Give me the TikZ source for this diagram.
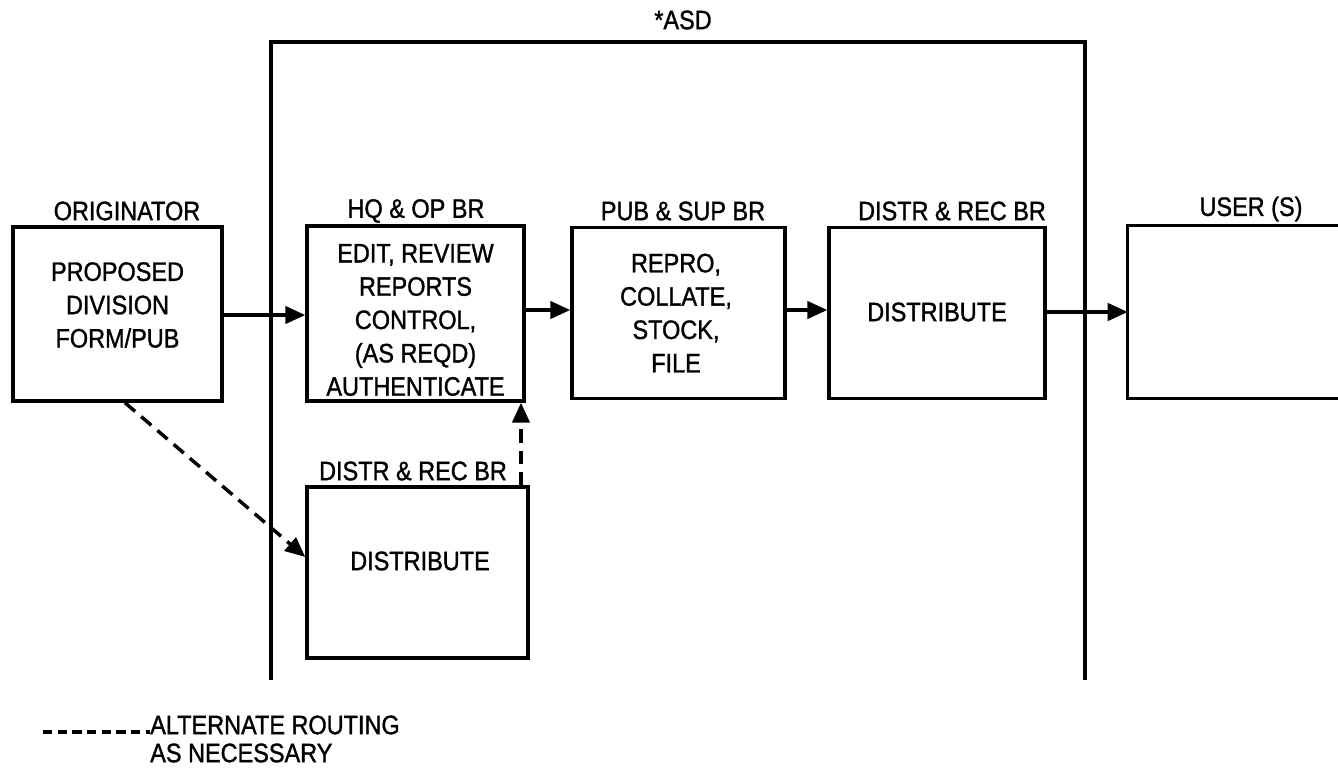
\documentclass[tikz,border=0pt]{standalone}
\usepackage{fontspec}
\setmainfont{Liberation Sans}[FakeStretch=0.88,FakeBold=1.2]
\usetikzlibrary{arrows.meta}
\begin{document}
\begin{tikzpicture}[x=0.75pt,y=-0.75pt,
  box/.style={draw, line width=2.6pt, inner sep=0pt},
  txt/.style={font=\fontsize{20}{25}\selectfont, align=center, inner sep=0pt},
  arr/.style={line width=2.6pt, -{Triangle[length=15pt,width=13pt]}},
  dsh/.style={arr, dash pattern=on 10pt off 6pt},
  frame/.style={line width=2.4pt}]
\useasboundingbox (0,0) rectangle (1338,768);

% boxes
\node[box, minimum width=156.75pt, minimum height=130.5pt] (orig) at (117.5,314) {};
\node[box, minimum width=162.75pt, minimum height=131.25pt] (hq)   at (415.5,313.5) {};
\node[box, minimum width=159.75pt, minimum height=128.25pt] (pub)  at (678.5,313) {};
\node[box, minimum width=162pt,    minimum height=128.25pt] (dist) at (937,313) {};
\node[minimum width=157.5pt, minimum height=129pt, inner sep=0pt] (user) at (1233,312) {};
\draw[line width=2.6pt] (user.north east) -- (user.north west) -- (user.south west) -- (user.south east);
\node[box, minimum width=165.75pt, minimum height=128.25pt] (dist2) at (417.5,572.5) {};

% box texts
\node[txt] (origt) at (117.5,305) {PROPOSED\\DIVISION\\FORM/PUB};
\node[txt] (hqt) at (415.5,320) {EDIT, REVIEW\\REPORTS\\CONTROL,\\(AS REQD)\\AUTHENTICATE};
\node[txt] (pubt) at (676,313) {REPRO,\\COLLATE,\\STOCK,\\FILE};
\node[txt] (distt) at (937,312) {DISTRIBUTE};
\node[txt] (dist2t) at (420,561) {DISTRIBUTE};

% labels above boxes
\node[txt] (origl) at (127,211) {ORIGINATOR};
\node[txt] (hql) at (416,211) {HQ \& OP BR};
\node[txt] (publ) at (683,211) {PUB \& SUP BR};
\node[txt] (distl) at (952,211) {DISTR \& REC BR};
\node[txt] (userl) at (1251,209) {USER (S)};
\node[txt] (dist2l) at (413,471) {DISTR \& REC BR};

% ASD frame
\node[txt] (asd) at (683,20) {*ASD};
\coordinate (fl) at (271,680);
\coordinate (ftl) at (271,42);
\coordinate (ftr) at (1085,42);
\coordinate (fr) at (1085,680);
\draw[frame] (fl) -- (ftl) -- (ftr) -- (fr);

% arrows
\draw[arr] (orig.east |- 0,315) -- (hq.west |- 0,315);
\draw[arr] (hq.east |- 0,310) -- (pub.west |- 0,310);
\draw[arr] (pub.east |- 0,310) -- (dist.west |- 0,310);
\draw[arr] (dist.east |- 0,312) -- (user.west |- 0,312);

% dashed alternate routing
\draw[dsh] (orig.south -| 125,0) -- (dist2.west |- 0,557);
\draw[dsh] (dist2.north -| 521,0) -- (hq.south -| 521,0);

% legend
\node[txt, anchor=west, align=left, font=\fontsize{20}{21}\selectfont] (leg) at (150,739) {ALTERNATE ROUTING\\AS NECESSARY};
\coordinate (legs) at (43,732);
\draw[line width=2.4pt, dash pattern=on 7pt off 4pt] (legs) -- (leg.west |- 0,732);
\end{tikzpicture}
\end{document}
